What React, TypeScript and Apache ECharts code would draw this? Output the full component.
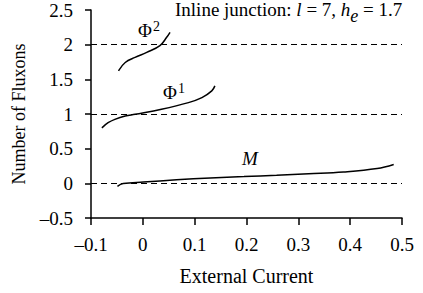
import React, { useEffect, useRef } from "react";
import * as echarts from "echarts";

const mX = [-0.049, -0.038, 0.001, 0.065, 0.13, 0.195, 0.258, 0.32, 0.387, 0.452, 0.484];
const mY = [-0.043, -0.004, 0.019, 0.05, 0.077, 0.097, 0.116, 0.138, 0.164, 0.213, 0.271];

const phi1X = [-0.079, -0.067, -0.054, -0.034, -0.015, 0.036, 0.088, 0.114, 0.133, 0.139];
const phi1Y = [0.8, 0.874, 0.923, 0.971, 0.996, 1.068, 1.164, 1.236, 1.333, 1.406];

const phi2X = [-0.047, -0.034, -0.015, 0.0075, 0.033, 0.046, 0.0525];
const phi2Y = [1.623, 1.743, 1.816, 1.888, 1.986, 2.106, 2.178];

const refLines = [0, 1, 2];

const FONT = "Liberation Serif";

function pairs(xs: number[], ys: number[]) {
  return xs.map((x, i) => [x, ys[i]]);
}

function fmt(v: number) {
  const r = Math.round(v * 10) / 10;
  if (Math.abs(r) < 1e-9) return "0";
  return String(r).replace("-", "\u2013");
}

export default function App() {
  const ref = useRef<HTMLDivElement>(null);
  useEffect(() => {
    if (!ref.current) return;
    const chart = echarts.init(ref.current, null, { renderer: "svg" });
    const lineStyle = { color: "#000", width: 1.5 };
    const axisStyle = { color: "#000", width: 1.5 };
    chart.setOption({
      animation: false,
      backgroundColor: "#fff",
      textStyle: { fontFamily: FONT, color: "#000" },
      grid: { left: 91, right: 21, top: 10, bottom: 75 },
      xAxis: {
        type: "value",
        min: -0.1,
        max: 0.5,
        interval: 0.1,
        name: "External Current",
        nameLocation: "middle",
        nameGap: 48,
        nameTextStyle: { fontFamily: FONT, fontSize: 20, color: "#000" },
        axisLine: { onZero: false, lineStyle: axisStyle },
        axisTick: { lineStyle: axisStyle, length: 7 },
        axisLabel: { fontFamily: FONT, fontSize: 19, color: "#000", margin: 17, formatter: fmt },
        splitLine: { show: false },
      },
      yAxis: {
        type: "value",
        min: -0.5,
        max: 2.5,
        interval: 0.5,
        name: "Number of Fluxons",
        nameLocation: "middle",
        nameGap: 63,
        nameTextStyle: { fontFamily: FONT, fontSize: 18, color: "#000" },
        axisLine: { show: true, onZero: false, lineStyle: axisStyle },
        axisTick: { show: true, lineStyle: axisStyle, length: 6 },
        axisLabel: { fontFamily: FONT, fontSize: 19, color: "#000", margin: 18, formatter: fmt },
        splitLine: { show: false },
      },
      series: [
        {
          type: "line",
          data: pairs(mX, mY),
          smooth: 0.4,
          showSymbol: false,
          lineStyle,
          markLine: {
            silent: true,
            symbol: "none",
            label: { show: false },
            lineStyle: { color: "#000", type: [6, 4], width: 1.2 },
            data: refLines.map((v) => ({ yAxis: v })),
          },
        },
        { type: "line", data: pairs(phi1X, phi1Y), smooth: 0.4, showSymbol: false, lineStyle },
        { type: "line", data: pairs(phi2X, phi2Y), smooth: 0.4, showSymbol: false, lineStyle },
      ],
      graphic: [
        {
          type: "text",
          left: 175,
          top: 0,
          style: {
            text: "Inline junction: {i|l} = 7, {i|h}{sub|e} = 1.7",
            font: `19px ${FONT}`,
            fill: "#000",
            rich: {
              i: { fontFamily: FONT, fontSize: 19, fontStyle: "italic", fill: "#000" },
              sub: { fontFamily: FONT, fontSize: 18, fontStyle: "italic", fill: "#000", padding: [12, 0, 0, 0] },
            },
          },
        },
        { type: "text", left: 138, top: 21, style: { text: "\u03a6", font: `19px ${FONT}`, fill: "#000" } },
        { type: "text", left: 153, top: 19, style: { text: "2", font: `14px ${FONT}`, fill: "#000" } },
        { type: "text", left: 163, top: 83, style: { text: "\u03a6", font: `19px ${FONT}`, fill: "#000" } },
        { type: "text", left: 178, top: 81, style: { text: "1", font: `14px ${FONT}`, fill: "#000" } },
        { type: "text", left: 242, top: 149, style: { text: "M", font: `italic 19px ${FONT}`, fill: "#000" } },
      ],
    });
    return () => chart.dispose();
  }, []);
  return <div ref={ref} style={{ position: "absolute", left: 0, top: 0, width: 423, height: 293 }} />;
}
